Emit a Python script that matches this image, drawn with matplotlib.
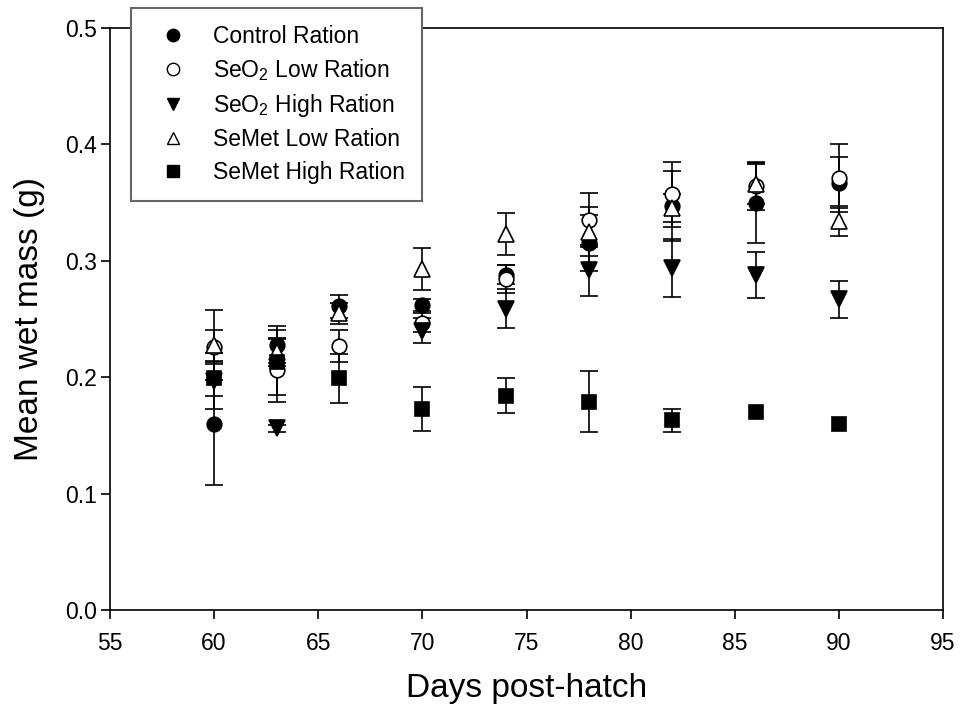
import numpy as np
import matplotlib
matplotlib.use('Agg')
import matplotlib.pyplot as plt
from matplotlib.lines import Line2D
from matplotlib.ticker import FormatStrFormatter

plt.rcParams['font.family'] = ['Liberation Sans', 'DejaVu Sans']
plt.rcParams['mathtext.fontset'] = 'custom'
plt.rcParams['mathtext.rm'] = 'Liberation Sans'

nan = np.nan

# sampling days (post-hatch)
days = [60, 63, 66, 70, 74, 78, 82, 86, 90]

# mean wet mass (g) and standard error for each ration
control = [0.160, 0.228, 0.261, 0.262, 0.288, 0.315, 0.347, 0.350, 0.367]
control_se = [0.053, 0.016, 0.010, 0.005, 0.008, 0.024, 0.030, 0.035, 0.022]

seo2_low = [0.226, 0.206, 0.227, 0.247, 0.284, 0.335, 0.357, 0.364, 0.371]
seo2_low_se = [0.015, 0.027, 0.014, 0.008, 0.012, 0.023, 0.028, 0.020, 0.029]

seo2_high = [0.197, 0.156, nan, 0.240, 0.259, 0.292, 0.294, 0.288, 0.267]
seo2_high_se = [0.024, 0.003, nan, 0.011, 0.017, 0.022, 0.025, 0.020, 0.016]

semet_low = [0.228, 0.222, 0.255, 0.293, 0.323, 0.325, 0.345, 0.366, 0.334]
semet_low_se = [0.030, 0.012, 0.009, 0.018, 0.018, 0.021, 0.012, 0.017, 0.013]

semet_high = [0.199, 0.213, 0.199, 0.173, 0.184, 0.179, 0.163, 0.170, 0.160]
semet_high_se = [0.015, 0.028, 0.021, 0.019, 0.015, 0.026, 0.010, nan, nan]

labels = ['Control Ration', 'SeO$_2$ Low Ration', 'SeO$_2$ High Ration',
          'SeMet Low Ration', 'SeMet High Ration']

series = [
    (control, control_se, 'o', 'black', 10.5),
    (seo2_low, seo2_low_se, 'o', 'white', 10.5),
    (seo2_high, seo2_high_se, 'v', 'black', 11),
    (semet_low, semet_low_se, '^', 'white', 11),
    (semet_high, semet_high_se, 's', 'black', 9.5),
]

fig = plt.figure(figsize=(9.62, 7.11), dpi=100)
ax = fig.add_axes([0.1143, 0.142, 0.866, 0.8186])

handles = []
for (vals, se, mk, fc, ms), lab in zip(series, labels):
    ax.errorbar(days, vals, yerr=se, fmt=mk, color='black', mfc=fc, mec='black',
                ms=ms, mew=1.2, ecolor='black', elinewidth=1.2, capsize=6.5,
                capthick=1.2)
    handles.append(Line2D([], [], linestyle='none', marker=mk, color='black',
                          mfc=fc, mec='black', ms=ms * 0.85, mew=1.0, label=lab))

ax.set_xlim(55, 95)
ax.set_ylim(0, 0.5)
ax.set_xticks(range(55, 96, 5))
ax.set_yticks([0.0, 0.1, 0.2, 0.3, 0.4, 0.5])
ax.yaxis.set_major_formatter(FormatStrFormatter('%.1f'))
ax.tick_params(direction='out', length=6.5, width=1.2, labelsize=16.5)
ax.tick_params(axis='x', pad=9)
ax.tick_params(axis='y', pad=3)
for s in ax.spines.values():
    s.set_linewidth(1.2)

ax.set_xlabel('Days post-hatch', fontsize=24, labelpad=13)
ax.set_ylabel('Mean wet mass (g)', fontsize=24, labelpad=14)

leg = ax.legend(handles=handles, loc='upper left', bbox_to_anchor=(0.136, 0.989),
                bbox_transform=fig.transFigure, fontsize=16.5, frameon=True,
                fancybox=False, borderaxespad=0, labelspacing=0.4,
                handletextpad=0.67, borderpad=0.75, handlelength=2.16)
leg.get_frame().set_edgecolor('#666666')
leg.get_frame().set_linewidth(1.5)
leg.get_frame().set_alpha(1)

fig.savefig('out.png', dpi=100)
